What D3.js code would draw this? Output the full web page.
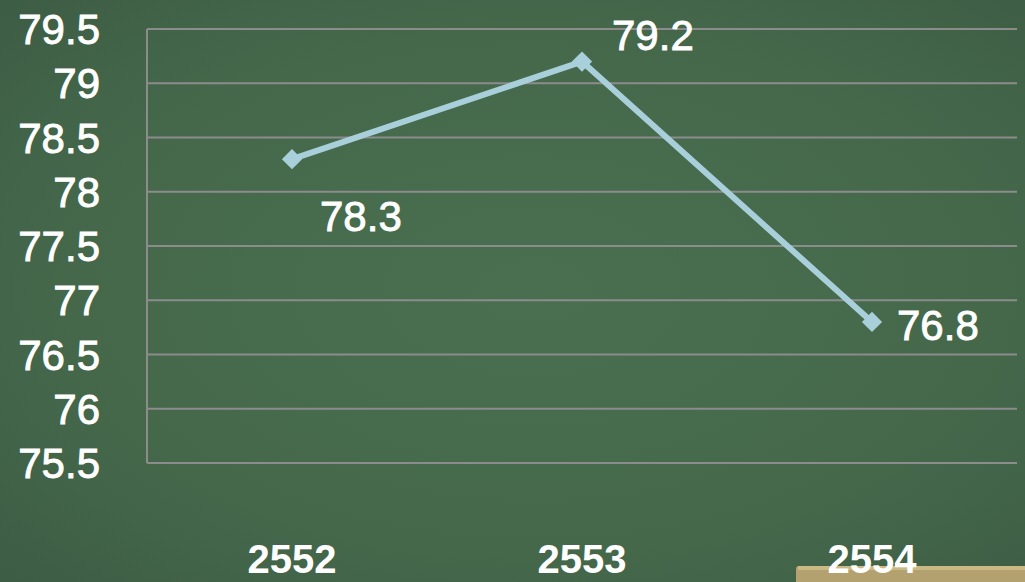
<!DOCTYPE html>
<html lang="en">
<head>
  <meta charset="utf-8">
  <title>Chart</title>
  <script src="https://cdn.jsdelivr.net/npm/d3@7"></script>
  <style>
    html, body { margin: 0; padding: 0; overflow: hidden; }
    svg { display: block; }
  </style>
</head>
<body>
  <script>

  // data
  var years = ["2552", "2553", "2554"];
  var values = [78.3, 79.2, 76.8];
  var yTicks = [75.5, 76, 76.5, 77, 77.5, 78, 78.5, 79, 79.5];

  // where each value label sits relative to its point
  var labelOffsets = [[28, 72], [30, -12], [25, 18]];

  var width = 1025, height = 582;
  var margin = {top: 29, right: 8, bottom: 119, left: 147};

  var svg = d3.select("body").append("svg")
    .attr("width", width)
    .attr("height", height);

  // chalkboard background
  var defs = svg.append("defs");
  var grad = defs.append("radialGradient")
    .attr("id", "board")
    .attr("cx", "52%").attr("cy", "50%").attr("r", "75%");
  grad.append("stop").attr("offset", "0%").attr("stop-color", "#4a6f50");
  grad.append("stop").attr("offset", "60%").attr("stop-color", "#45684b");
  grad.append("stop").attr("offset", "100%").attr("stop-color", "#3c5c43");

  svg.append("rect")
    .attr("width", width).attr("height", height)
    .attr("fill", "url(#board)");

  // chalk tray at the bottom right
  svg.append("rect")
    .attr("x", 796).attr("y", 566)
    .attr("width", 240).attr("height", 20)
    .attr("rx", 3)
    .attr("fill", "#b3a170");
  svg.append("rect")
    .attr("x", 798).attr("y", 566)
    .attr("width", 240).attr("height", 4)
    .attr("fill", "#cbb985");

  var x = d3.scaleBand()
    .domain(years)
    .range([margin.left, width - margin.right]);

  var y = d3.scaleLinear()
    .domain([75.5, 79.5])
    .range([height - margin.bottom, margin.top]);

  // gridlines
  svg.append("g")
    .selectAll("line")
    .data(yTicks)
    .enter().append("line")
    .attr("x1", margin.left)
    .attr("x2", width - margin.right)
    .attr("y1", d => y(d))
    .attr("y2", d => y(d))
    .attr("stroke", "#8c8c8c")
    .attr("stroke-width", 2);

  // vertical axis line
  svg.append("line")
    .attr("x1", margin.left).attr("x2", margin.left)
    .attr("y1", y(79.5)).attr("y2", y(75.5))
    .attr("stroke", "#8c8c8c")
    .attr("stroke-width", 2);

  // y labels
  svg.append("g")
    .selectAll("text")
    .data(yTicks)
    .enter().append("text")
    .attr("x", 100)
    .attr("y", d => y(d))
    .attr("dy", "0.36em")
    .attr("text-anchor", "end")
    .attr("font-family", "'Liberation Sans', Arial, sans-serif")
    .attr("font-size", "42px")
    .attr("fill", "#ffffff")
    .attr("stroke", "#ffffff")
    .attr("stroke-width", 0.9)
    .text(d => d);

  // x labels
  svg.append("g")
    .selectAll("text")
    .data(years)
    .enter().append("text")
    .attr("x", d => x(d) + x.bandwidth() / 2)
    .attr("y", 573)
    .attr("text-anchor", "middle")
    .attr("font-family", "'Liberation Sans', Arial, sans-serif")
    .attr("font-weight", "bold")
    .attr("font-size", "40px")
    .attr("fill", "#ffffff")
    .text(d => d);

  var line = d3.line()
    .x((d, i) => x(years[i]) + x.bandwidth() / 2)
    .y(d => y(d));

  svg.append("path")
    .datum(values)
    .attr("d", line)
    .attr("fill", "none")
    .attr("stroke", "#a9cfda")
    .attr("stroke-width", 6)
    .attr("stroke-linejoin", "round");

  svg.append("g")
    .selectAll("path")
    .data(values)
    .enter().append("path")
    .attr("d", d3.symbol().type(d3.symbolDiamond2).size(260))
    .attr("transform", (d, i) => "translate(" + (x(years[i]) + x.bandwidth() / 2) + "," + y(d) + ")")
    .attr("fill", "#a9cfda");

  // value labels
  svg.append("g")
    .selectAll("text")
    .data(values)
    .enter().append("text")
    .attr("x", (d, i) => x(years[i]) + x.bandwidth() / 2 + labelOffsets[i][0])
    .attr("y", (d, i) => y(d) + labelOffsets[i][1])
    .attr("font-family", "'Liberation Sans', Arial, sans-serif")
    .attr("font-size", "42px")
    .attr("fill", "#ffffff")
    .attr("stroke", "#ffffff")
    .attr("stroke-width", 0.9)
    .text(d => d.toFixed(1));

  </script>
</body>
</html>
